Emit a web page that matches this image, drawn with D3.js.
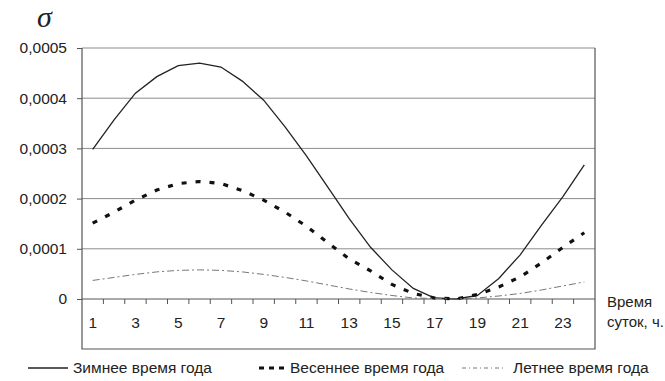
<!DOCTYPE html>
<html>
<head>
<meta charset="utf-8">
<script src="https://cdn.jsdelivr.net/npm/d3@7"></script>
<style>
  html, body { margin: 0; padding: 0; background: #fff; }
  svg { display: block; }
  text { font-family: "Liberation Sans", Arial, sans-serif; fill: #222; }
</style>
</head>
<body>
<svg id="chart" width="665" height="381"></svg>
<script>
// Hours of the day (x categories)
const hours = d3.range(1, 25);

// Standard deviation sigma by hour for each season
const winter = [0.000298, 0.000357, 0.000410, 0.000443, 0.000465, 0.000470, 0.000462, 0.000434,
                0.000396, 0.000343, 0.000285, 0.000223, 0.000160, 0.000103, 0.000058, 0.000021,
                0.000002, 0.000000, 0.000007, 0.000041, 0.000088, 0.000147, 0.000204, 0.000267];
const spring = [0.000151, 0.000173, 0.000197, 0.000217, 0.000230, 0.000234, 0.000230, 0.000216,
                0.000197, 0.000173, 0.000145, 0.000112, 0.000080, 0.000056, 0.000029, 0.000011,
                0.000002, 0.000000, 0.000009, 0.000024, 0.000044, 0.000072, 0.000103, 0.000132];
const summer = [0.000037, 0.000043, 0.000049, 0.000054, 0.000057, 0.000058, 0.000057, 0.000054,
                0.000049, 0.000043, 0.000036, 0.000028, 0.000020, 0.000013, 0.000007, 0.000002,
                0.000001, 0.000000, 0.000002, 0.000006, 0.000011, 0.000018, 0.000026, 0.000034];

// Axis ticks
const yTicks = [0, 0.0001, 0.0002, 0.0003, 0.0004, 0.0005];
const yTickLabels = ["0", "0,0001", "0,0002", "0,0003", "0,0004", "0,0005"];
const xLabelHours = [1, 3, 5, 7, 9, 11, 13, 15, 17, 19, 21, 23];

const seriesNames = ["Зимнее время года", "Весеннее время года", "Летнее время года"];
const xTitle = ["Время", "суток, ч."];
const yTitle = "σ";

const svg = d3.select("#chart");
const L = 82, R = 595, T = 48, B = 349;

const x = d3.scaleBand().domain(hours).range([L, R]).paddingInner(0).paddingOuter(0);
const y = d3.scaleLinear().domain([0, 0.0005]).range([299, T]);

// Horizontal grid lines
svg.append("g")
  .selectAll("line")
  .data(yTicks.filter(v => v > 0))
  .join("line")
  .attr("x1", L).attr("x2", R)
  .attr("y1", d => y(d)).attr("y2", d => y(d))
  .attr("stroke", "#8c8c8c").attr("stroke-width", 1);

// Y axis with labels
const yAxis = d3.axisLeft(y)
  .tickValues(yTicks)
  .tickSize(5)
  .tickPadding(10)
  .tickFormat((d, i) => yTickLabels[i]);
const gy = svg.append("g").attr("transform", `translate(${L},0)`).call(yAxis);
gy.select(".domain").remove();
gy.selectAll(".tick line").attr("stroke", "#555");
gy.selectAll(".tick text")
  .attr("font-size", 15.5)
  .style("font-family", "'Liberation Sans', Arial, sans-serif")
  .attr("fill", "#222");

// Zero line and x tick labels
const xAxis = d3.axisBottom(x)
  .tickValues(xLabelHours)
  .tickSize(0)
  .tickPadding(18);
const gx = svg.append("g").attr("transform", `translate(0,${y(0)})`).call(xAxis);
gx.select(".domain").remove();
gx.selectAll(".tick text")
  .attr("font-size", 15.5)
  .style("font-family", "'Liberation Sans', Arial, sans-serif")
  .attr("fill", "#222");

svg.append("line")
  .attr("x1", L).attr("x2", R)
  .attr("y1", y(0)).attr("y2", y(0))
  .attr("stroke", "#555").attr("stroke-width", 1);

// Category boundary ticks on the zero line
svg.append("g")
  .selectAll("line")
  .data(hours.slice(1))
  .join("line")
  .attr("x1", d => x(d)).attr("x2", d => x(d))
  .attr("y1", y(0)).attr("y2", y(0) + 5)
  .attr("stroke", "#555");

// Frame: left axis, right and bottom border
svg.append("path")
  .attr("d", `M${L},${T}V${B}H${R}V${T}`)
  .attr("fill", "none").attr("stroke", "#555").attr("stroke-width", 1.2);

// Lines
const line = d3.line()
  .x((d, i) => x(hours[i]) + x.bandwidth() / 2)
  .y(d => y(d));

const styles = [
  { data: winter, stroke: "#222", width: 1.3, dash: null },
  { data: spring, stroke: "#111", width: 3.2, dash: "5,9" },
  { data: summer, stroke: "#777", width: 1, dash: "7,3,2,3" }
];

svg.append("g")
  .selectAll("path")
  .data(styles)
  .join("path")
  .attr("d", s => line(s.data))
  .attr("fill", "none")
  .attr("stroke", s => s.stroke)
  .attr("stroke-width", s => s.width)
  .attr("stroke-dasharray", s => s.dash);

// Y title
svg.append("text")
  .attr("x", 37).attr("y", 27)
  .attr("font-size", 30)
  .style("font-family", "'Liberation Serif', 'DejaVu Serif', serif")
  .style("font-style", "italic")
  .text(yTitle);

// X title
svg.append("g")
  .selectAll("text")
  .data(xTitle)
  .join("text")
  .attr("x", 607)
  .attr("y", (d, i) => 307 + i * 20)
  .attr("font-size", 15)
  .text(d => d);

// Legend
const legendItems = [
  { x1: 28, x2: 68, tx: 73, style: styles[0] },
  { x1: 259, x2: 284, tx: 290, style: styles[1] },
  { x1: 462, x2: 506, tx: 513, style: styles[2] }
];
const lg = svg.append("g").selectAll("g").data(legendItems).join("g");
lg.append("line")
  .attr("x1", d => d.x1).attr("x2", d => d.x2)
  .attr("y1", 368).attr("y2", 368)
  .attr("stroke", d => d.style.stroke)
  .attr("stroke-width", d => d.style.width)
  .attr("stroke-dasharray", (d, i) => i === 1 ? "5,5" : (i === 2 ? "4,3,1,3" : null));
lg.append("text")
  .attr("x", d => d.tx).attr("y", 373)
  .attr("font-size", 15.5)
  .text((d, i) => seriesNames[i]);
</script>
</body>
</html>
